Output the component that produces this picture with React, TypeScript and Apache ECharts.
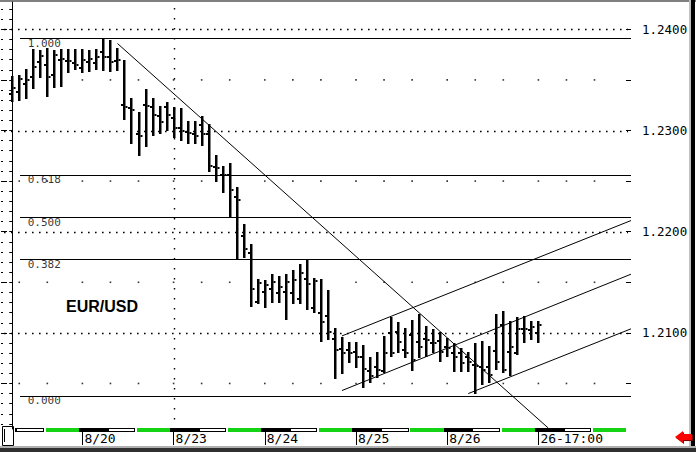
import React, { useEffect, useRef } from 'react';
import * as echarts from 'echarts';

// ---- data ----
const openP = [1.2336,1.2338,1.2346,1.2353,1.2368,1.2365,1.2355,1.2370,1.2369,1.2367,
  1.2362,1.2368,1.2367,1.2378,1.2373,1.2369,1.2325,1.2322,1.2297,1.2325,
  1.2323,1.2314,1.2323,1.2312,1.2302,1.2299,1.2297,1.2305,1.2297,1.2264,
  1.2256,1.2256,1.2234,1.2196,1.2179,1.2131,1.2140,1.2143,1.2139,1.2140,
  1.2139,1.2133,1.2153,1.2125,1.2120,1.2117,1.2094,1.2084,1.2083,1.2081,
  1.2076,1.2062,1.2066,1.2062,1.2100,1.2101,1.2083,1.2098,1.2091,1.2094,
  1.2090,1.2092,1.2086,1.2080,1.2080,1.2076,1.2068,1.2066,1.2066,1.2082,
  1.2108,1.2081,1.2080,1.2104,1.2103,1.2100];
const highP = [1.2354,1.2355,1.2361,1.2381,1.2380,1.2382,1.2380,1.2381,1.2381,1.2381,
  1.2381,1.2380,1.2381,1.2391,1.2389,1.2382,1.2370,1.2332,1.2318,1.2341,
  1.2332,1.2324,1.2328,1.2323,1.2322,1.2309,1.2309,1.2314,1.2306,1.2276,
  1.2265,1.2268,1.2244,1.2208,1.2188,1.2153,1.2152,1.2158,1.2156,1.2158,
  1.2162,1.2168,1.2173,1.2154,1.2153,1.2142,1.2105,1.2096,1.2091,1.2091,
  1.2088,1.2076,1.2081,1.2097,1.2116,1.2111,1.2105,1.2113,1.2119,1.2107,
  1.2104,1.2101,1.2095,1.2090,1.2085,1.2081,1.2090,1.2092,1.2087,1.2119,
  1.2122,1.2112,1.2116,1.2117,1.2112,1.2112];
const lowP = [1.2328,1.2329,1.2331,1.2341,1.2352,1.2333,1.2342,1.2343,1.2357,1.2360,
  1.2357,1.2358,1.2360,1.2359,1.2358,1.2359,1.2310,1.2287,1.2275,1.2284,
  1.2295,1.2297,1.2300,1.2293,1.2290,1.2287,1.2287,1.2285,1.2259,1.2249,
  1.2238,1.2214,1.2173,1.2174,1.2126,1.2129,1.2125,1.2130,1.2130,1.2113,
  1.2129,1.2129,1.2123,1.2120,1.2091,1.2093,1.2054,1.2059,1.2070,1.2065,
  1.2046,1.2050,1.2055,1.2060,1.2076,1.2080,1.2075,1.2062,1.2075,1.2076,
  1.2080,1.2071,1.2076,1.2061,1.2061,1.2061,1.2040,1.2048,1.2050,1.2063,
  1.2060,1.2057,1.2078,1.2090,1.2093,1.2090];
const closeP = [1.2342,1.2351,1.2350,1.2363,1.2374,1.2353,1.2375,1.2371,1.2369,1.2365,
  1.2370,1.2371,1.2373,1.2373,1.2368,1.2370,1.2323,1.2320,1.2295,1.2324,
  1.2315,1.2308,1.2315,1.2302,1.2300,1.2298,1.2295,1.2297,1.2265,1.2263,
  1.2256,1.2241,1.2231,1.2183,1.2143,1.2149,1.2147,1.2150,1.2145,1.2150,
  1.2152,1.2159,1.2148,1.2151,1.2111,1.2101,1.2083,1.2080,1.2080,1.2076,
  1.2064,1.2057,1.2063,1.2080,1.2080,1.2091,1.2080,1.2073,1.2086,1.2093,
  1.2090,1.2081,1.2085,1.2076,1.2070,1.2071,1.2067,1.2063,1.2058,1.2071,
  1.2063,1.2086,1.2104,1.2104,1.2106,1.2108];

const dayTicks = [10, 23, 36, 49, 62, 75];
const dayLabels = ['8/20', '8/23', '8/24', '8/25', '8/26', '26-17:00'];
const sessionDays = [-3, 10, 23, 36, 49, 62, 75];
// [start offset, end offset, session type] in bars from the day start
const sessionParts = [[-0.5, 3.6, 0], [3.6, 7.5, 1], [7.75, 12.5, 2]];
const sessionColors = ['#000000', '#ffffff', '#14d214'];
const priceLabels = [1.21, 1.22, 1.23, 1.24];
const halfLevels = [1.205, 1.215, 1.225, 1.235];
const weekStart = 23;
const sparseOffsets = [0, 4, 8];
const fibHigh = 1.2391;
const fibLow = 1.2038;
const fibRatios = [1, 0.618, 0.5, 0.382, 0];
const fibStartX = 1.1;
const fibLabelX = 2.2;
const downTrend = [[15, 1.2386], [76.4, 1.2006]];
const channelUpper = [[47, 1.2097], [88.2, 1.2211]];
const channelMid = [[47, 1.2043], [88.2, 1.2158]];
const channelLow = [[65, 1.2040], [88.2, 1.2104]];

const X_MIN = -1.6;
const X_MAX = 88.2;
const Y_MIN = 1.2005;
const Y_MAX = 1.2427;

const MONO = '"DejaVu Sans Mono", monospace';

function stepValues(from: number, to: number, step: number): number[] {
  const out: number[] = [];
  const n = Math.round((to - from) / step);
  for (let k = 0; k <= n; k++) out.push(Math.round((from + k * step) * 10000) / 10000);
  return out;
}

export default function App() {
  const ref = useRef<HTMLDivElement>(null);
  useEffect(() => {
    if (!ref.current) return;
    const chart = echarts.init(ref.current, null, { renderer: 'svg' });

    const minorTicks = stepValues(1.201, 1.242, 0.001);
    const majorTicks = stepValues(1.205, 1.240, 0.005);
    const fibLevels = fibRatios.map((r) => fibLow + r * (fibHigh - fibLow));

    const ohlc = openP.map((o, i) => [i, o, highP[i], lowP[i], closeP[i]]);
    const sessions: number[][] = [];
    sessionDays.forEach((d) => sessionParts.forEach((p) => sessions.push([d + p[0], d + p[1], p[2]])));
    const sparse: number[][] = [];
    halfLevels.forEach((y) => sessionDays.forEach((d) => sparseOffsets.forEach((o) => {
      const x = d + o;
      if (x > X_MIN && x < X_MAX) sparse.push([x, y]);
    })));

    const yBase = { type: 'value', min: Y_MIN, max: Y_MAX, splitLine: { show: false }, scale: true };
    const lineSeries = (data: number[][]) => ({
      type: 'line', data, showSymbol: false, silent: true,
      lineStyle: { color: '#000', width: 1 }, z: 3,
    });

    chart.setOption({
      animation: false,
      backgroundColor: '#ffffff',
      grid: { left: 1, right: 65, top: 2, bottom: 23, containLabel: false, outerBoundsMode: 'none' },
      xAxis: {
        type: 'value', min: X_MIN, max: X_MAX,
        axisLine: { show: false },
        splitLine: { show: false },
        axisTick: { show: true, customValues: dayTicks, length: 16, lineStyle: { color: '#000', width: 1 } },
        axisLabel: {
          customValues: dayTicks, align: 'left', margin: 3, padding: [0, 0, 0, 2],
          fontFamily: MONO, fontSize: 13, color: '#000',
          formatter: (v: number) => dayLabels[dayTicks.indexOf(Math.round(v))] ?? '',
        },
      },
      yAxis: [
        {
          ...yBase, position: 'right',
          axisLine: { show: true, lineStyle: { color: '#000', width: 1 } },
          axisTick: { show: true, inside: true, length: 3, customValues: minorTicks, lineStyle: { color: '#000' } },
          axisLabel: {
            customValues: priceLabels, margin: 11, fontFamily: MONO, fontSize: 12.5, color: '#000',
            formatter: (v: number) => v.toFixed(4),
          },
        },
        {
          ...yBase, position: 'right',
          axisLine: { show: false },
          axisTick: { show: true, inside: true, length: 5, customValues: majorTicks, lineStyle: { color: '#000' } },
          axisLabel: { show: false },
        },
        {
          ...yBase, position: 'left',
          axisLine: { show: false },
          axisTick: { show: true, inside: true, length: 2, customValues: minorTicks, lineStyle: { color: '#000' } },
          axisLabel: { show: false },
        },
        {
          ...yBase, position: 'left',
          axisLine: { show: false },
          axisTick: { show: true, inside: true, length: 6, customValues: majorTicks, lineStyle: { color: '#000' } },
          axisLabel: { show: false },
        },
      ],
      series: [
        // dense dotted rows at the labelled prices
        {
          type: 'custom', silent: true, z: 3,
          data: priceLabels.map((v) => [X_MIN, v]),
          encode: { x: 0, y: 1 },
          renderItem: (params: any, api: any) => {
            const cs = params.coordSys;
            const y = Math.round(api.coord([X_MIN, api.value(1)])[1]) + 0.5;
            return {
              type: 'line',
              shape: { x1: cs.x + 3, y1: y, x2: cs.x + cs.width - 3, y2: y },
              style: { stroke: '#000', lineWidth: 1.4, lineDash: [1.6, 5.4] },
            };
          },
        },
        // vertical dotted week line
        {
          type: 'custom', silent: true, z: 3,
          data: [[weekStart, Y_MIN]],
          encode: { x: 0, y: 1 },
          renderItem: (params: any, api: any) => {
            const cs = params.coordSys;
            const x = Math.round(api.coord([api.value(0), Y_MIN])[0]) + 0.5;
            return {
              type: 'line',
              shape: { x1: x, y1: cs.y + 6, x2: x, y2: cs.y + cs.height - 2 },
              style: { stroke: '#000', lineWidth: 1.4, lineDash: [1.6, 8.4] },
            };
          },
        },
        // sparse dots at half levels
        {
          type: 'scatter', silent: true, z: 3,
          data: sparse, symbol: 'rect', symbolSize: 1.6,
          itemStyle: { color: '#000' },
        },
        // fibonacci levels (crisp horizontal rules)
        {
          type: 'custom', silent: true, z: 3,
          data: fibLevels.map((l) => [fibStartX, l, X_MAX]),
          encode: { x: [0, 2], y: 1 },
          renderItem: (params: any, api: any) => {
            const a = api.coord([api.value(0), api.value(1)]);
            const b = api.coord([api.value(2), api.value(1)]);
            return { type: 'rect', shape: { x: Math.round(a[0]), y: Math.round(a[1]), width: Math.round(b[0]) - Math.round(a[0]), height: 1 }, style: { fill: '#000' } };
          },
        },
        {
          type: 'scatter', silent: true, symbolSize: 0, z: 4,
          data: fibLevels.map((lvl) => [fibLabelX, lvl]),
          label: {
            show: true, position: 'right', distance: 0, offset: [0, 5],
            fontFamily: MONO, fontSize: 11, color: '#000',
            formatter: (p: any) => fibRatios[p.dataIndex].toFixed(3),
          },
        },
        lineSeries(downTrend),
        lineSeries(channelUpper),
        lineSeries(channelMid),
        lineSeries(channelLow),
        {
          type: 'custom', silent: true, z: 5,
          data: ohlc,
          encode: { x: 0, y: [1, 2, 3, 4] },
          renderItem: (params: any, api: any) => {
            const i = api.value(0);
            const top = api.coord([i, api.value(2)]);
            const bot = api.coord([i, api.value(3)]);
            const o = api.coord([i, api.value(1)]);
            const c = api.coord([i, api.value(4)]);
            const cx = Math.round(top[0]);
            const t = Math.round(top[1]);
            const b = Math.round(bot[1]);
            return {
              type: 'group',
              children: [
                { type: 'rect', shape: { x: cx - 1, y: t, width: 2.5, height: Math.max(1, b - t) }, style: { fill: '#000' } },
                { type: 'rect', shape: { x: cx - 3, y: Math.round(o[1]) - 1, width: 2, height: 2 }, style: { fill: '#000' } },
                { type: 'rect', shape: { x: cx + 1.5, y: Math.round(c[1]) - 1, width: 2, height: 2 }, style: { fill: '#000' } },
              ],
            };
          },
        },
        {
          type: 'custom', silent: true, clip: false, z: 6,
          data: sessions,
          encode: { x: [0, 1] },
          renderItem: (params: any, api: any) => {
            const cs = params.coordSys;
            const a = api.coord([api.value(0), Y_MIN])[0];
            const e = api.coord([api.value(1), Y_MIN])[0];
            const x0 = Math.max(cs.x + 14, Math.round(a));
            const x1 = Math.min(cs.x + cs.width - 5, Math.round(e));
            if (x1 <= x0) return { type: 'group', children: [] };
            const y = Math.round(cs.y + cs.height) - 1;
            const t = api.value(2);
            if (t === 1) {
              return {
                type: 'group', children: [
                  { type: 'rect', shape: { x: x0, y, width: x1 - x0, height: 4 }, style: { fill: '#000' } },
                  { type: 'rect', shape: { x: x0 + 1, y: y + 1, width: x1 - x0 - 2, height: 2 }, style: { fill: '#fff' } },
                ],
              };
            }
            return { type: 'rect', shape: { x: x0, y, width: x1 - x0, height: 4 }, style: { fill: sessionColors[t] } };
          },
        },
      ],
      graphic: [
        { type: 'text', left: 66, top: 298, silent: true, style: { text: 'EUR/USD', font: 'bold 16px "Liberation Sans", Arial, sans-serif', fill: '#000' } },
        { type: 'rect', silent: true, shape: { x: 0, y: 0, width: 696, height: 2 }, style: { fill: '#808080' } },
        { type: 'rect', silent: true, shape: { x: 689, y: 0, width: 2, height: 446 }, style: { fill: '#c0c0c0' } },
        { type: 'rect', silent: true, shape: { x: 691, y: 0, width: 4, height: 447 }, style: { fill: '#000' } },
        { type: 'rect', silent: true, shape: { x: 0, y: 446, width: 696, height: 2 }, style: { fill: '#b0b0b0' } },
        { type: 'rect', silent: true, shape: { x: 0, y: 448, width: 696, height: 4 }, style: { fill: '#303030' } },
        { type: 'rect', silent: true, shape: { x: 2.5, y: 426.5, width: 11, height: 19 }, style: { fill: '#fff', stroke: '#000', lineWidth: 1 } },
        { type: 'rect', silent: true, shape: { x: 4, y: 429, width: 1, height: 13 }, style: { fill: '#000' } },
        { type: 'polygon', silent: true, shape: { points: [[676, 438], [684, 432], [684, 435], [693, 435], [693, 441], [684, 441], [684, 444]] }, style: { fill: '#800000' } },
        { type: 'polygon', silent: true, shape: { points: [[675, 437], [683, 431], [683, 434], [692, 434], [692, 440], [683, 440], [683, 443]] }, style: { fill: '#ff0000' } },
      ],
    });
    return () => chart.dispose();
  }, []);
  return <div ref={ref} style={{ position: 'absolute', left: 0, top: 0, width: 696, height: 452, background: '#fff' }} />;
}
